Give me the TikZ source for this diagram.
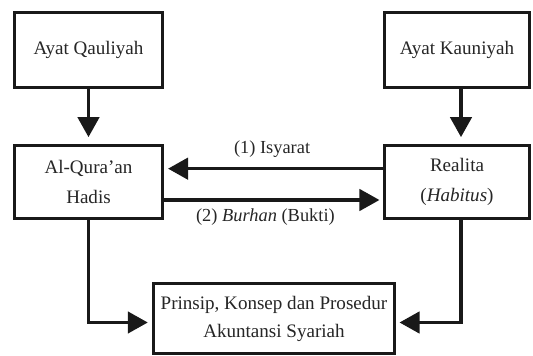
\documentclass[tikz,border=0pt]{standalone}
\usepackage{fontspec}
\setmainfont{Liberation Serif}
\usetikzlibrary{arrows.meta}
\begin{document}
\begin{tikzpicture}[x=0.75pt,y=-0.75pt,
  box/.style={draw=black!90, line width=2.3pt, fill=white, align=center, inner sep=0pt,
    font=\fontsize{14.3}{23}\selectfont, text=black!85},
  arr/.style={draw=black!90, line width=2.6pt, -{Triangle[length=15pt,width=16pt]}},
  lbl/.style={font=\fontsize{13.8}{15}\selectfont, text=black!85, inner sep=0pt}]
\useasboundingbox (0,0) rectangle (533,356);
\node[box, minimum width=111pt, minimum height=56pt] (qauliyah) at (88.5,50) {Ayat Qauliyah};
\node[box, minimum width=109pt, minimum height=56pt] (kauniyah) at (457,50) {Ayat Kauniyah};
\node[box, minimum width=111pt, minimum height=55pt] (quran) at (88.5,182) {Al-Qura'an\\Hadis};
\node[box, minimum width=109pt, minimum height=55pt] (realita) at (457,182) {Realita\\(\textit{Habitus})};
\node[box, minimum width=181pt, minimum height=53pt, font=\fontsize{14.3}{21}\selectfont] (akun) at (274,318.5) {Prinsip, Konsep dan Prosedur\\Akuntansi Syariah};
\draw[arr, shorten >=5pt] (qauliyah.south) -- (quran.north);
\draw[arr, shorten >=5pt] ([xshift=3pt]kauniyah.south) -- ([xshift=3pt]realita.north);
\draw[arr, shorten >=3pt] ([yshift=10pt]realita.west) -- ([yshift=10pt]quran.east)
  node[lbl, midway, above=7pt, xshift=-1pt] (isyarat) {(1) Isyarat};
\draw[arr, shorten >=2.5pt] ([yshift=-13.5pt]quran.east) -- ([yshift=-13.5pt]realita.west)
  node[lbl, midway, below=5pt, xshift=-6pt] (burhan) {(2) \textit{Burhan} (Bukti)};
\draw[arr, shorten >=3pt] (quran.south) |- ([yshift=-3pt]akun.west);
\draw[arr, shorten >=2.5pt] ([xshift=3pt]realita.south) |- ([yshift=-3pt]akun.east);
\end{tikzpicture}
\end{document}
